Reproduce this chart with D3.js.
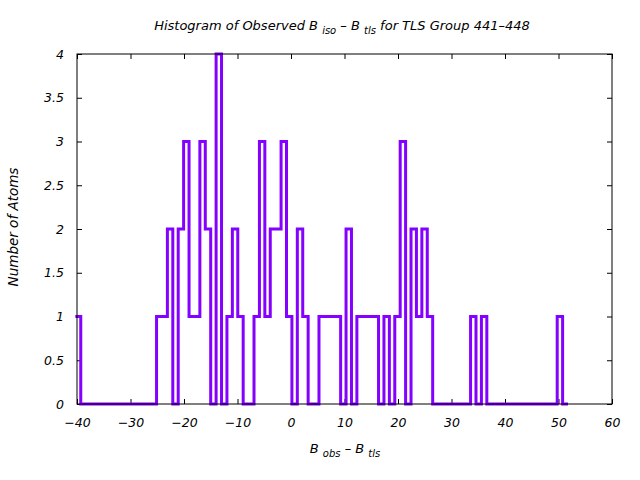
<!DOCTYPE html>
<html>
<head>
<meta charset="utf-8">
<script src="https://cdn.jsdelivr.net/npm/d3@7"></script>
<style>
  html, body { margin: 0; padding: 0; background: #fff; }
  svg { display: block; }
  text { font-family: "DejaVu Sans", sans-serif; font-style: italic; fill: #000; }
</style>
</head>
<body>
<svg id="chart" width="640" height="480"></svg>
<script>
// ---- data ----
const binStart = -40.31;        // left edge of the first bin
const binWidth = 1.012;         // histogram bin width
const counts = [
  1,
  0,0,0,0,0,0,0,0,0,0,0,0,0,0,
  1,1,2,0,2,3,1,1,3,2,0,4,0,1,2,1,0,0,1,3,1,2,2,3,1,0,2,1,0,0,
  1,1,1,1,0,2,0,1,1,1,1,0,1,0,1,3,0,2,1,2,1,
  0,0,0,0,0,0,0,
  1,0,1,
  0,0,0,0,0,0,0,0,0,0,0,0,0,
  1,0
];
const xTicks = [-40, -30, -20, -10, 0, 10, 20, 30, 40, 50, 60];
const yTicks = [0, 0.5, 1, 1.5, 2, 2.5, 3, 3.5, 4];
const xDomain = [-40, 60];
const yDomain = [0, 4];

// ---- layout ----
const L = 77, R = 612, T = 54, B = 404;
const svg = d3.select("#chart");
const x = d3.scaleLinear().domain(xDomain).range([L, R]);
const y = d3.scaleLinear().domain(yDomain).range([B, T]);
const fmtX = v => (v < 0 ? "\u2212" + Math.abs(v) : String(v));
const fmtY = v => String(v);

// axes (inward ticks, mirrored)
const gx = svg.append("g").attr("transform", `translate(0,${B})`)
  .call(d3.axisBottom(x).tickValues(xTicks).tickFormat(fmtX).tickSizeInner(-5).tickSizeOuter(0).tickPadding(14));
const gxt = svg.append("g").attr("transform", `translate(0,${T})`)
  .call(d3.axisTop(x).tickValues(xTicks).tickFormat("").tickSizeInner(-5).tickSizeOuter(0));
const gy = svg.append("g").attr("transform", `translate(${L},0)`)
  .call(d3.axisLeft(y).tickValues(yTicks).tickFormat(fmtY).tickSizeInner(-5).tickSizeOuter(0).tickPadding(13));
const gyr = svg.append("g").attr("transform", `translate(${R},0)`)
  .call(d3.axisRight(y).tickValues(yTicks).tickFormat("").tickSizeInner(-5).tickSizeOuter(0));
[gx, gxt, gy, gyr].forEach(g => {
  g.select(".domain").remove();
  g.selectAll("line").attr("stroke", "#000").attr("stroke-width", 1);
  g.selectAll("text").attr("font-family", null).attr("font-size", 12.5).style("font-style", "italic");
});

// histogram steps
const pts = counts.map((c, i) => [binStart + i * binWidth, c]);
pts.push([binStart + counts.length * binWidth, counts[counts.length - 1]]);
const line = d3.line().x(d => x(d[0])).y(d => y(d[1])).curve(d3.curveStepAfter);
svg.append("path").attr("d", line(pts))
  .attr("fill", "none").attr("stroke", "#8400ff").attr("stroke-width", 3)
  .attr("stroke-linejoin", "miter");

// frame
svg.append("rect").attr("x", L).attr("y", T).attr("width", R - L).attr("height", B - T)
  .attr("fill", "none").attr("stroke", "#000").attr("stroke-width", 1);

// title
const title = svg.append("text").attr("x", 342).attr("y", 30).attr("text-anchor", "middle").attr("font-size", 13);
title.append("tspan").text("Histogram of Observed B ");
title.append("tspan").attr("font-size", 10).attr("dy", 4).text("iso");
title.append("tspan").attr("dy", -4).text(" \u2013 B ");
title.append("tspan").attr("font-size", 10).attr("dy", 4).text("tls");
title.append("tspan").attr("dy", -4).text(" for TLS Group 441\u2013448");

// x label
const xl = svg.append("text").attr("x", 345).attr("y", 453).attr("text-anchor", "middle").attr("font-size", 13);
xl.append("tspan").text("B ");
xl.append("tspan").attr("font-size", 10).attr("dy", 4).text("obs");
xl.append("tspan").attr("dy", -4).text(" \u2013 B ");
xl.append("tspan").attr("font-size", 10).attr("dy", 4).text("tls");

// y label
svg.append("text").attr("transform", "translate(18,227) rotate(-90)")
  .attr("text-anchor", "middle").attr("font-size", 13.5).text("Number of Atoms");
</script>
</body>
</html>
